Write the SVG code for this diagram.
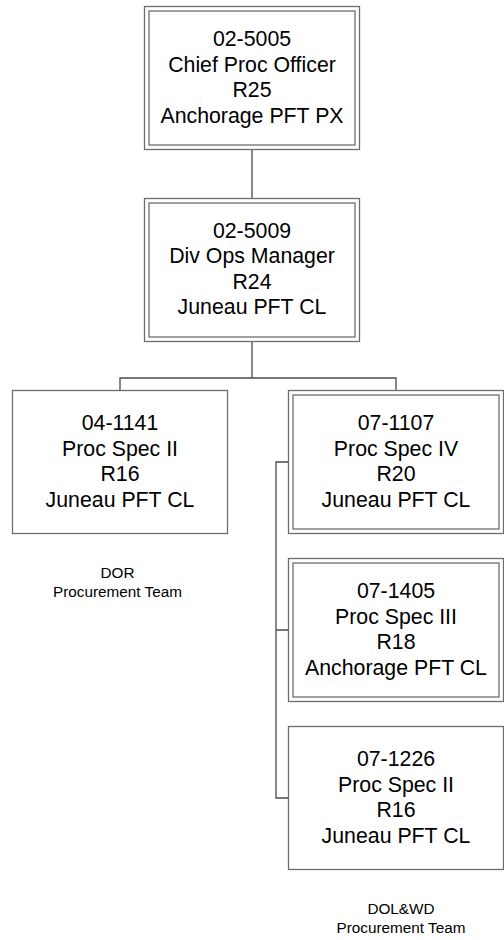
<svg xmlns="http://www.w3.org/2000/svg" width="504" height="940" viewBox="0 0 504 940">
<style>
.box{fill:#fff;stroke:#6e6e6e;stroke-width:1.3}
.in{fill:none;stroke:#6e6e6e;stroke-width:1.3}
.t{font-family:"Liberation Sans",Arial,sans-serif;font-size:21.3px;fill:#000;text-anchor:middle}
.s{font-family:"Liberation Sans",Arial,sans-serif;font-size:15.3px;fill:#000;text-anchor:middle}
.c{fill:none;stroke:#4a4a4a;stroke-width:1.3}
</style>
<rect width="504" height="940" fill="#fff"/>
<g id="connectors">
<path class="c" d="M252,150V198M252,342V378M120,390V378H396V390"/>
<path class="c" d="M288,462H276V798H288M276,630H288"/>
</g>
<g id="n0">
<rect class="box" x="144.5" y="6.5" width="215" height="143"/>
<rect class="in" x="149" y="11" width="206" height="134"/>
<text class="t" x="252" y="46">02-5005</text>
<text class="t" x="252" y="71.5">Chief Proc Officer</text>
<text class="t" x="252" y="97">R25</text>
<text class="t" x="252" y="122.5">Anchorage PFT PX</text>
</g>
<g id="n1">
<rect class="box" x="144.5" y="198.5" width="215" height="143"/>
<rect class="in" x="149" y="203" width="206" height="134"/>
<text class="t" x="252" y="237.5">02-5009</text>
<text class="t" x="252" y="263">Div Ops Manager</text>
<text class="t" x="252" y="288.5">R24</text>
<text class="t" x="252" y="314">Juneau PFT CL</text>
</g>
<g id="n2">
<rect class="box" x="12.5" y="390.5" width="215" height="143"/>
<text class="t" x="120" y="430">04-1141</text>
<text class="t" x="120" y="455.5">Proc Spec II</text>
<text class="t" x="120" y="481">R16</text>
<text class="t" x="120" y="506.5">Juneau PFT CL</text>
</g>
<g id="n3">
<rect class="box" x="288.5" y="390.5" width="215" height="143"/>
<rect class="in" x="293" y="395" width="206" height="134"/>
<text class="t" x="396" y="430">07-1107</text>
<text class="t" x="396" y="455.5">Proc Spec IV</text>
<text class="t" x="396" y="481">R20</text>
<text class="t" x="396" y="506.5">Juneau PFT CL</text>
</g>
<g id="n4">
<rect class="box" x="288.5" y="558.5" width="215" height="143"/>
<rect class="in" x="293" y="563" width="206" height="134"/>
<text class="t" x="396" y="598">07-1405</text>
<text class="t" x="396" y="623.5">Proc Spec III</text>
<text class="t" x="396" y="649">R18</text>
<text class="t" x="396" y="674.5">Anchorage PFT CL</text>
</g>
<g id="n5">
<rect class="box" x="288.5" y="726.5" width="215" height="143"/>
<text class="t" x="396" y="766">07-1226</text>
<text class="t" x="396" y="791.5">Proc Spec II</text>
<text class="t" x="396" y="817">R16</text>
<text class="t" x="396" y="842.5">Juneau PFT CL</text>
</g>
<g id="label-dor">
<text class="s" x="117.5" y="578">DOR</text>
<text class="s" x="117.5" y="597">Procurement Team</text>
</g>
<g id="label-dolwd">
<text class="s" x="401" y="913.5">DOL&amp;WD</text>
<text class="s" x="401" y="932.5">Procurement Team</text>
</g>
</svg>
